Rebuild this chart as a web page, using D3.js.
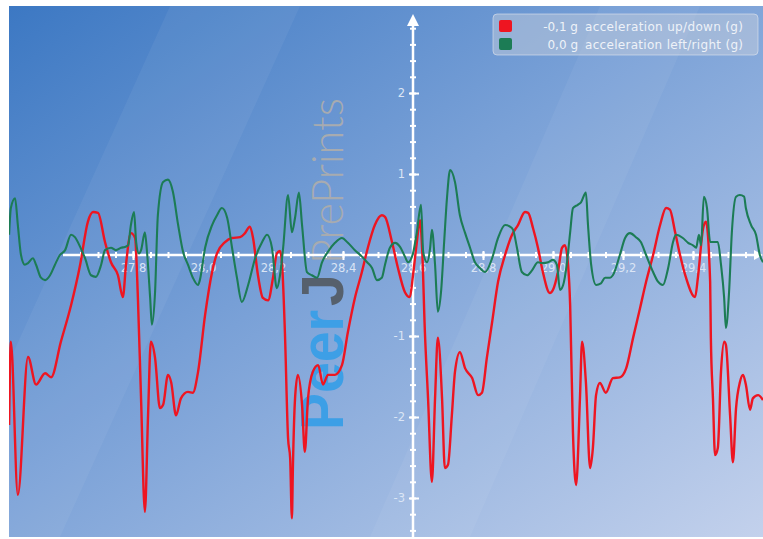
<!DOCTYPE html>
<html>
<head>
<meta charset="utf-8">
<script src="https://cdn.jsdelivr.net/npm/d3@7"></script>
<style>
  body { margin: 0; background: #fff; }
  svg { display: block; }
  .tick text { font-family: "DejaVu Sans", sans-serif; font-size: 11.5px; fill: #dbe5f5; }
  .legend text { font-family: "DejaVu Sans", sans-serif; font-size: 12px; fill: #eef2f8; }
</style>
</head>
<body>
<svg id="frame" width="763" height="539"></svg>
<script>
// acceleration up/down (g), time in s
const upDownTime = [
  27.446,27.451,27.471,27.500,27.523,27.549,27.566,27.594,27.623,27.649,
  27.671,27.686,27.700,27.720,27.737,27.757,27.771,27.780,27.794,27.806,
  27.814,27.823,27.834,27.843,27.851,27.863,27.877,27.886,27.900,27.909,
  27.923,27.937,27.957,27.971,27.986,28.006,28.026,28.040,28.063,28.083,
  28.106,28.120,28.134,28.143,28.157,28.171,28.186,28.200,28.211,28.220,
  28.226,28.234,28.243,28.249,28.254,28.257,28.263,28.271,28.283,28.291,
  28.300,28.314,28.329,28.343,28.357,28.377,28.397,28.414,28.434,28.454,
  28.471,28.491,28.511,28.520,28.540,28.557,28.577,28.591,28.600,28.611,
  28.620,28.626,28.634,28.643,28.654,28.663,28.671,28.683,28.691,28.700,
  28.711,28.720,28.734,28.749,28.769,28.786,28.797,28.811,28.826,28.843,
  28.863,28.883,28.900,28.920,28.929,28.943,28.957,28.971,28.991,29.000,
  29.014,29.026,29.034,29.043,29.049,29.057,29.066,29.077,29.083,29.094,
  29.106,29.114,29.123,29.134,29.151,29.171,29.191,29.209,29.229,29.249,
  29.266,29.286,29.306,29.323,29.334,29.349,29.363,29.380,29.406,29.414,
  29.429,29.437,29.449,29.451,29.457,29.463,29.471,29.480,29.489,29.494,
  29.506,29.514,29.523,29.534,29.543,29.551,29.563,29.571,29.586,29.600
];
const upDownG = [
  -2.10,-1.07,-2.96,-1.26,-1.60,-1.46,-1.51,-1.07,-0.62,-0.12,
  0.41,0.53,0.52,0.16,-0.09,-0.25,-0.52,-0.12,0.27,0.21,
  -0.53,-1.77,-3.17,-1.98,-1.07,-1.27,-1.89,-1.85,-1.48,-1.57,
  -1.98,-1.77,-1.69,-1.70,-1.44,-0.74,-0.21,0.02,0.16,0.21,
  0.22,0.27,0.35,0.21,-0.25,-0.53,-0.56,-0.28,0.02,0.05,
  -0.12,-0.95,-2.26,-2.51,-3.25,-2.59,-1.77,-1.48,-1.85,-2.43,
  -1.77,-1.44,-1.36,-1.60,-1.48,-1.48,-1.36,-0.95,-0.53,-0.21,
  0.09,0.37,0.49,0.47,0.16,-0.16,-0.46,-0.52,-0.25,0.16,
  0.43,0.09,-0.95,-1.77,-2.80,-1.77,-1.02,-1.77,-2.63,-2.59,
  -1.98,-1.44,-1.20,-1.40,-1.52,-1.73,-1.70,-1.27,-0.83,-0.33,
  0.00,0.25,0.37,0.53,0.52,0.33,0.09,-0.21,-0.47,-0.43,
  -0.21,0.09,0.12,-0.12,-0.62,-2.19,-2.84,-1.77,-1.07,-1.57,
  -2.63,-2.38,-1.73,-1.58,-1.70,-1.52,-1.51,-1.40,-1.02,-0.65,
  -0.33,0.00,0.37,0.58,0.56,0.28,0.00,-0.28,-0.52,-0.28,
  0.33,0.41,-0.33,-1.02,-1.77,-2.47,-2.38,-1.44,-1.07,-1.11,
  -1.98,-2.56,-1.89,-1.57,-1.48,-1.60,-1.91,-1.77,-1.73,-1.79
];

// acceleration left/right (g)
const leftRightTime = [
  27.446,27.451,27.463,27.471,27.480,27.491,27.500,27.514,27.523,27.537,
  27.549,27.563,27.577,27.591,27.606,27.623,27.634,27.649,27.663,27.680,
  27.694,27.709,27.720,27.737,27.751,27.766,27.777,27.786,27.794,27.803,
  27.809,27.817,27.823,27.834,27.840,27.849,27.854,27.863,27.871,27.886,
  27.900,27.914,27.929,27.943,27.957,27.971,27.986,27.991,28.006,28.026,
  28.040,28.054,28.069,28.083,28.097,28.111,28.129,28.149,28.169,28.183,
  28.197,28.211,28.220,28.229,28.243,28.254,28.263,28.274,28.283,28.297,
  28.311,28.326,28.340,28.357,28.377,28.397,28.414,28.434,28.454,28.469,
  28.483,28.497,28.511,28.520,28.534,28.549,28.563,28.577,28.586,28.600,
  28.611,28.623,28.629,28.640,28.649,28.654,28.663,28.671,28.680,28.689,
  28.697,28.706,28.720,28.734,28.749,28.763,28.777,28.791,28.806,28.826,
  28.843,28.863,28.877,28.886,28.897,28.911,28.926,28.940,28.957,28.971,
  28.986,29.000,29.011,29.020,29.029,29.040,29.049,29.057,29.071,29.080,
  29.094,29.100,29.109,29.123,29.137,29.149,29.163,29.171,29.191,29.206,
  29.220,29.237,29.251,29.266,29.286,29.300,29.314,29.329,29.343,29.351,
  29.371,29.386,29.400,29.409,29.417,29.423,29.431,29.440,29.449,29.463,
  29.471,29.480,29.489,29.494,29.503,29.511,29.523,29.534,29.546,29.551,
  29.566,29.580,29.591,29.600
];
const leftRightG = [
  0.25,0.58,0.70,0.37,0.00,-0.12,-0.10,-0.04,-0.12,-0.28,
  -0.31,-0.25,-0.12,0.00,0.06,0.25,0.22,0.10,-0.04,-0.25,
  -0.27,-0.12,0.06,0.09,0.06,0.09,0.10,0.12,0.37,0.53,
  0.16,0.02,0.06,0.28,0.04,-0.53,-0.86,-0.46,0.49,0.90,
  0.93,0.78,0.37,0.04,-0.12,-0.28,-0.37,-0.31,0.09,0.37,
  0.49,0.58,0.46,0.09,-0.28,-0.58,-0.37,-0.04,0.16,0.25,
  0.09,-0.41,-0.25,0.09,0.74,0.28,0.46,0.77,0.37,-0.21,
  -0.25,-0.28,-0.09,0.04,0.15,0.21,0.15,0.06,-0.02,-0.09,
  -0.16,-0.31,-0.28,-0.12,0.09,0.15,0.10,-0.02,-0.09,0.02,
  0.28,0.62,0.04,-0.09,0.09,0.31,-0.12,-0.70,-0.46,0.16,
  0.70,1.05,0.90,0.49,0.27,0.09,-0.09,-0.16,-0.21,-0.04,
  0.21,0.37,0.35,0.31,0.09,-0.21,-0.25,-0.19,-0.09,-0.10,
  -0.09,-0.06,-0.12,-0.43,-0.37,-0.09,0.28,0.58,0.62,0.65,
  0.77,0.37,-0.12,-0.37,-0.35,-0.28,-0.28,-0.25,0.00,0.21,
  0.27,0.22,0.16,0.00,-0.21,-0.33,-0.37,-0.16,0.16,0.25,
  0.21,0.15,0.12,0.09,0.25,0.12,0.72,0.58,0.16,0.16,
  0.16,-0.12,-0.53,-0.90,-0.46,0.28,0.72,0.74,0.72,0.58,
  0.37,0.25,0.00,-0.09
];

const xMajorTicks = [27.8, 28.0, 28.2, 28.4, 28.6, 28.8, 29.0, 29.2, 29.4];
const yMajorTicks = [-3, -2, -1, 1, 2];
const legendValues = ["-0,1 g", "0,0 g"];
const legendLabels = ["acceleration up/down (g)", "acceleration left/right (g)"];
const seriesColors = ["#ee1521", "#1c7c55"];

const config = { width: 763, height: 539, left: 9, top: 6, bottom: 537 };

let svg = d3.select("#frame");

let x = d3.scaleLinear().domain([27.6, 29.6]).range([63, 763]);
let y = d3.scaleLinear().domain([-3, 2]).range([498, 93]);

// comma decimals and a plain hyphen for minus, as on the original display
let locale = d3.formatLocale({ decimal: ",", thousands: ".", grouping: [3], currency: ["", ""], minus: "-" });
let fmtX = locale.format(".1f");
let fmtY = locale.format("d");

// background
let defs = svg.append("defs");
let grad = defs.append("linearGradient").attr("id", "bg")
  .attr("x1", 0).attr("y1", 0).attr("x2", 1).attr("y2", 1);
grad.append("stop").attr("offset", 0).attr("stop-color", "#3c78c3");
grad.append("stop").attr("offset", 0.45).attr("stop-color", "#7aa1d7");
grad.append("stop").attr("offset", 1).attr("stop-color", "#c3d1ec");

defs.append("clipPath").attr("id", "plotclip")
  .append("rect")
  .attr("x", config.left).attr("y", config.top)
  .attr("width", config.width - config.left).attr("height", config.bottom - config.top);

svg.append("rect")
  .attr("x", config.left).attr("y", config.top)
  .attr("width", config.width - config.left).attr("height", config.bottom - config.top)
  .attr("fill", "url(#bg)");

// faint diagonal light streaks
let streaks = svg.append("g").attr("clip-path", "url(#plotclip)");
streaks.append("polygon").attr("points", "170,6 300,6 60,537 -70,537").attr("fill", "#fff").attr("opacity", 0.05);
streaks.append("polygon").attr("points", "600,6 700,6 470,537 370,537").attr("fill", "#fff").attr("opacity", 0.05);

// watermark
let wm = svg.append("text")
  .attr("transform", "translate(343,430) rotate(-90)")
  .style("font-family", "'Liberation Sans', Arial, sans-serif");
wm.append("tspan").text("Peer").attr("font-size", 62).attr("font-weight", "bold")
  .attr("fill", "#3d9fe6").attr("textLength", 120).attr("lengthAdjust", "spacingAndGlyphs");
wm.append("tspan").text("J").attr("font-size", 60).attr("font-weight", "bold")
  .attr("fill", "#56606c").attr("dx", 4).attr("textLength", 32).attr("lengthAdjust", "spacingAndGlyphs");
wm.append("tspan").text("PrePrints").attr("font-size", 44)
  .style("font-family", "Lato, 'Open Sans', sans-serif").attr("font-weight", 300)
  .attr("fill", "#a7abb0").attr("dx", 10).attr("textLength", 166).attr("lengthAdjust", "spacingAndGlyphs");

// axes
function styleAxis(g) {
  g.select(".domain").remove();
  g.selectAll(".tick line").attr("stroke", "#fff").attr("stroke-width", 2);
}

let xMinor = d3.range(27.65, 29.56, 0.05).map(v => +v.toFixed(2));
let yMinor = d3.range(-3.4, 2.81, 0.2).map(v => +v.toFixed(1));

let xAxisG = svg.append("g").attr("transform", `translate(0,${y(0)})`);
xAxisG.append("line").attr("x1", 63).attr("x2", 756).attr("y1", 0).attr("y2", 0)
  .attr("stroke", "#fff").attr("stroke-width", 2.5);
xAxisG.append("path").attr("d", "M763,0 L754,-5 L754,5 Z").attr("fill", "#fff");
xAxisG.append("g").call(d3.axisBottom(x).tickValues(xMinor).tickSize(3).tickFormat("")).call(styleAxis);
xAxisG.append("g").call(d3.axisTop(x).tickValues(xMinor).tickSize(3).tickFormat("")).call(styleAxis);
xAxisG.append("g").call(d3.axisBottom(x).tickValues(xMajorTicks).tickSize(5).tickPadding(4).tickFormat(fmtX)).call(styleAxis);
xAxisG.append("g").call(d3.axisTop(x).tickValues(xMajorTicks).tickSize(4).tickFormat("")).call(styleAxis);

let yAxisG = svg.append("g").attr("transform", `translate(${x(28.6)},0)`);
yAxisG.append("line").attr("x1", 0).attr("x2", 0).attr("y1", 24).attr("y2", 539)
  .attr("stroke", "#fff").attr("stroke-width", 2.5);
yAxisG.append("path").attr("d", "M0,14 L-6,26 L6,26 Z").attr("fill", "#fff");
yAxisG.append("g").call(d3.axisLeft(y).tickValues(yMinor).tickSize(3).tickFormat("")).call(styleAxis);
yAxisG.append("g").call(d3.axisRight(y).tickValues(yMinor).tickSize(3).tickFormat("")).call(styleAxis);
yAxisG.append("g").call(d3.axisLeft(y).tickValues(yMajorTicks).tickSize(4).tickPadding(4).tickFormat(fmtY)).call(styleAxis);
yAxisG.append("g").call(d3.axisRight(y).tickValues(yMajorTicks).tickSize(6).tickFormat("")).call(styleAxis);

// series
let line = d3.line()
  .x(d => x(d[0]))
  .y(d => y(d[1]))
  .curve(d3.curveMonotoneX);

let series = [
  d3.zip(upDownTime, upDownG),
  d3.zip(leftRightTime, leftRightG)
];

svg.append("g").attr("clip-path", "url(#plotclip)")
  .selectAll("path")
  .data(series)
  .join("path")
  .attr("d", line)
  .attr("fill", "none")
  .attr("stroke", (d, i) => seriesColors[i])
  .attr("stroke-width", (d, i) => i === 0 ? 2.4 : 2.1)
  .attr("stroke-linejoin", "round");

// legend
let legend = svg.append("g").classed("legend", true);
legend.append("rect")
  .attr("x", 493).attr("y", 14).attr("width", 265).attr("height", 41).attr("rx", 4)
  .attr("fill", "#c9d0dc").attr("fill-opacity", 0.45)
  .attr("stroke", "#dfe5ee").attr("stroke-opacity", 0.6);

let rows = legend.selectAll("g.row")
  .data(legendLabels)
  .join("g")
  .classed("row", true)
  .attr("transform", (d, i) => `translate(0,${i * 18})`);

rows.append("rect")
  .attr("x", 499).attr("y", 20).attr("width", 13).attr("height", 12).attr("rx", 2)
  .attr("fill", (d, i) => seriesColors[i]);
rows.append("text")
  .attr("x", 578).attr("y", 31).attr("text-anchor", "end")
  .text((d, i) => legendValues[i]);
rows.append("text")
  .attr("x", 585).attr("y", 31)
  .attr("textLength", 158).attr("lengthAdjust", "spacing")
  .text(d => d);
</script>
</body>
</html>
